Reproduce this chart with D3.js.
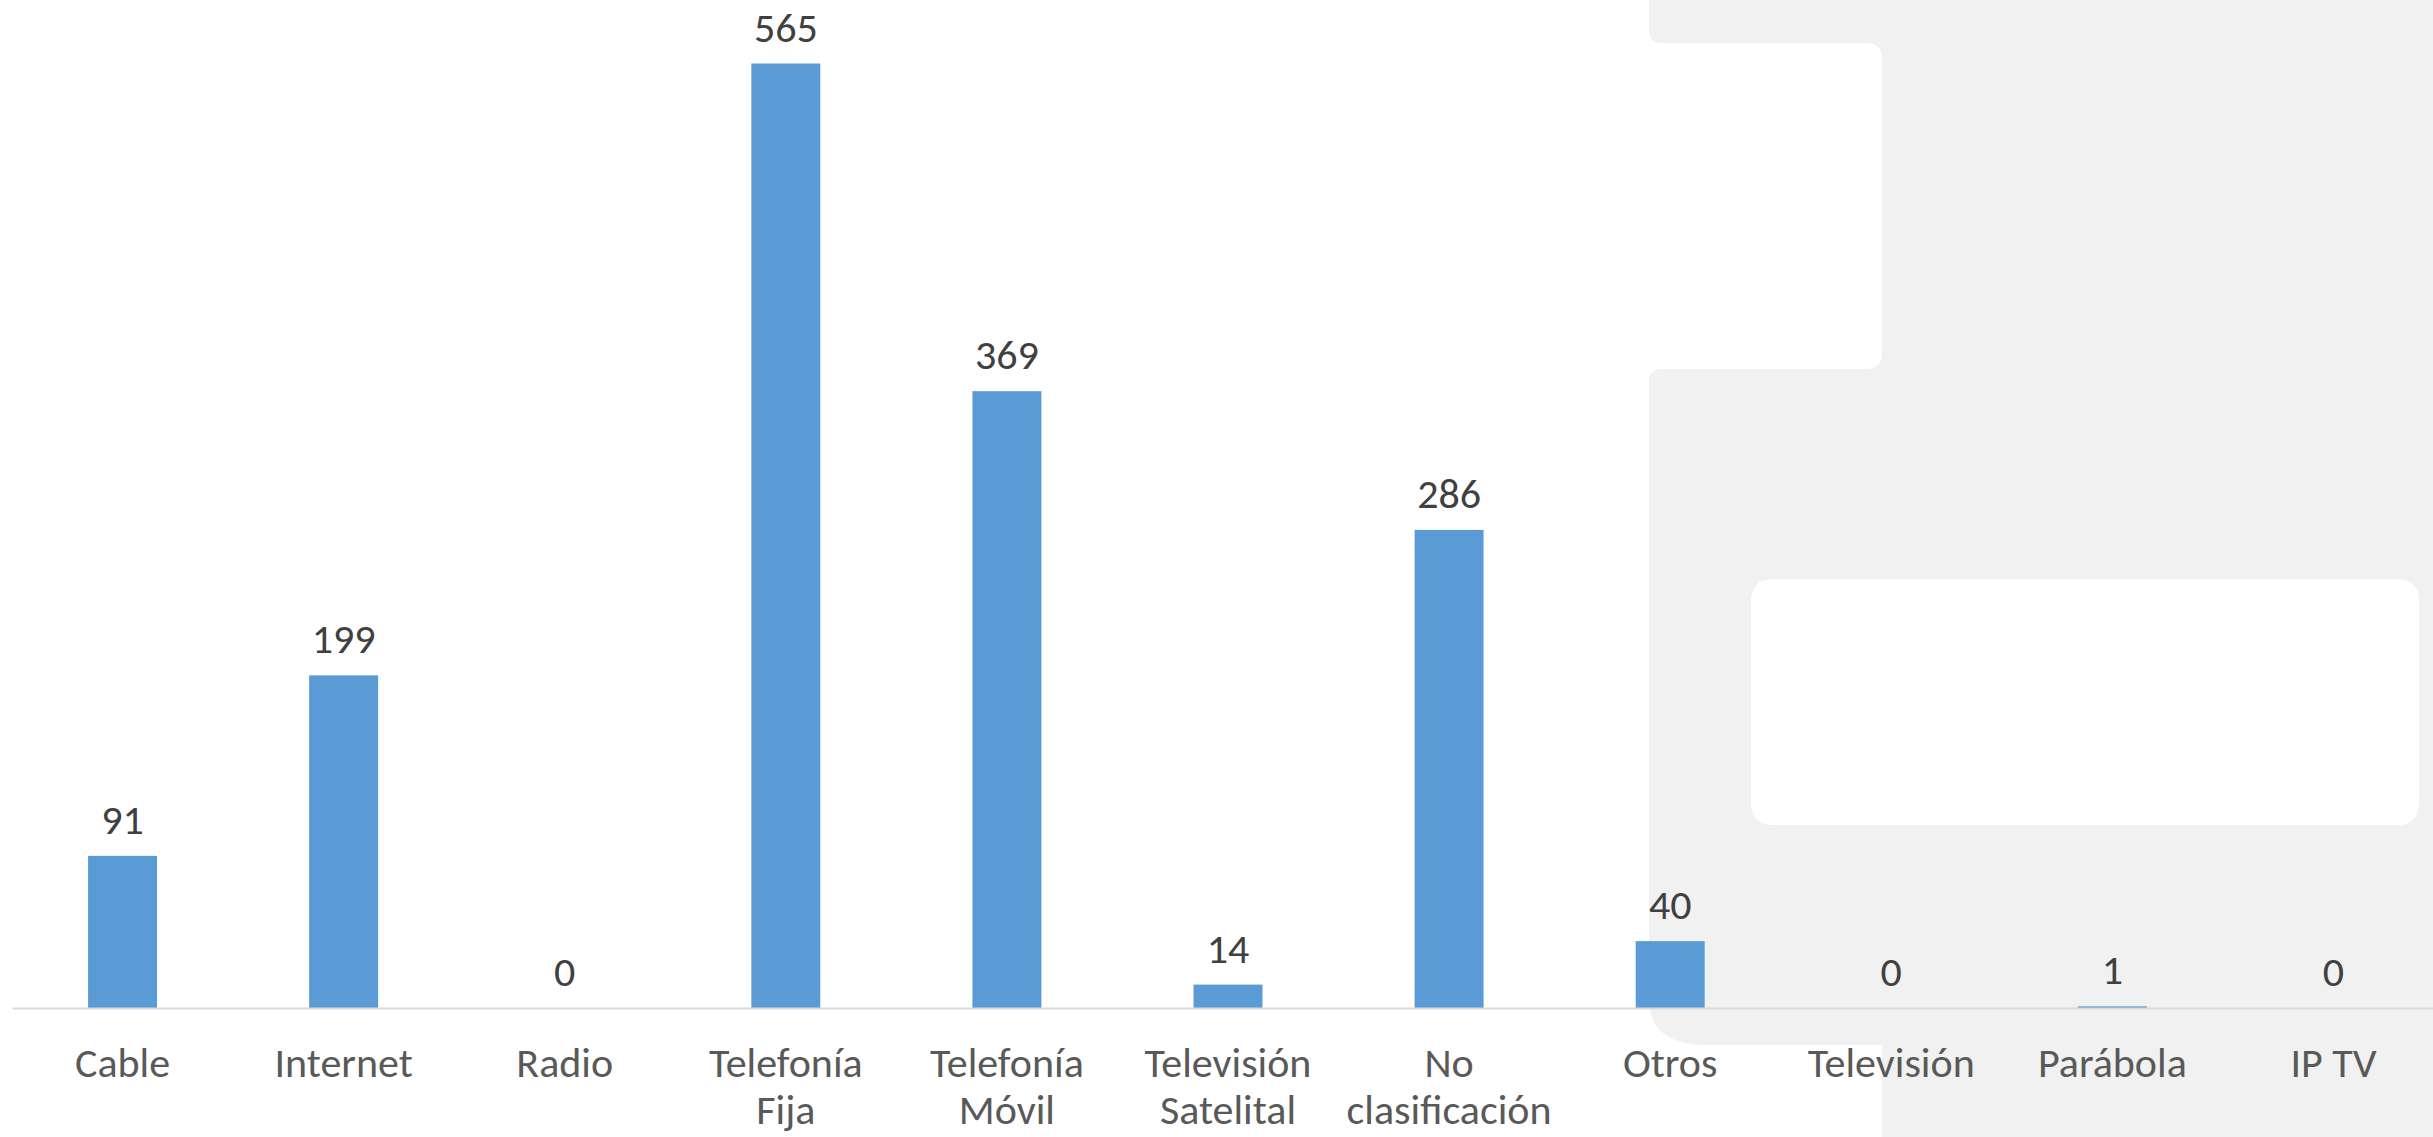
<!DOCTYPE html>
<html>
<head>
<meta charset="utf-8">
<script src="https://cdn.jsdelivr.net/npm/d3@7"></script>
<style>
  html, body { margin: 0; padding: 0; background: #ffffff; }
  svg { display: block; }
</style>
</head>
<body>
<svg id="chart" width="2433" height="1137"></svg>
<script>
// ---- Data ----
const categories = ["Cable", "Internet", "Radio", "Telefonía Fija", "Telefonía Móvil",
                    "Televisión Satelital", "No clasificación", "Otros", "Televisión", "Parábola", "IP TV"];
const values = [91, 199, 0, 565, 369, 14, 286, 40, 0, 1, 0];

// ---- Layout ----
const W = 2433, H = 1137;
const baseY = 1008;
const svg = d3.select("#chart");
const FONT = "Carlito, Calibri, Lato, 'Open Sans', sans-serif";

// Decorative grey background shape (slide backdrop)
const gx = 1649, nr = 1882, t1 = 43, t2 = 369, gb = 1045;
const bg = `M${gx},0 H${W} V${H} H${nr} V${gb} H${gx + 58} Q${gx},${gb} ${gx},${gb - 46}
  V${t2 + 12} Q${gx},${t2} ${gx + 12},${t2} H${nr - 16} Q${nr},${t2} ${nr},${t2 - 16}
  V${t1 + 16} Q${nr},${t1} ${nr - 16},${t1} H${gx + 12} Q${gx},${t1} ${gx},${t1 - 12} Z`;
svg.append("path").attr("d", bg).attr("fill", "#f0f1f0");
svg.append("rect").attr("x", 1751).attr("y", 579).attr("width", 668).attr("height", 246)
   .attr("rx", 20).attr("ry", 20).attr("fill", "#ffffff");

// ---- Scales ----
const x = d3.scaleBand().domain(categories).range([12, 2444]).paddingInner(0.688).paddingOuter(0.344);
const y = d3.scaleLinear().domain([0, 600]).range([baseY, 5]);

// Bars
svg.append("g").selectAll("rect")
  .data(categories)
  .join("rect")
  .attr("x", d => x(d))
  .attr("width", x.bandwidth())
  .attr("y", (d, i) => y(values[i]))
  .attr("height", (d, i) => baseY - y(values[i]))
  .attr("fill", "#5b9bd5");

// X axis (line only, no ticks)
const xAxis = svg.append("g")
  .attr("transform", `translate(0,${baseY})`)
  .call(d3.axisBottom(x).tickSize(0).tickPadding(0));
xAxis.select(".domain").attr("stroke", "#d9d9d9").attr("stroke-width", 2);
xAxis.selectAll(".tick text")
  .attr("font-family", FONT)
  .attr("font-size", 42)
  .attr("fill", "#595959")
  .attr("y", 0)
  .attr("dy", 0)
  .each(function(d) {
    const t = d3.select(this);
    const words = d.split(" ");
    const maxW = x.step() * 0.95;
    t.text(null);
    let lines = [], cur = [];
    const probe = t.append("tspan");
    words.forEach(w => {
      const test = cur.concat([w]).join(" ");
      probe.text(test);
      if (cur.length && probe.node().getComputedTextLength() > maxW) {
        lines.push(cur.join(" "));
        cur = [w];
      } else cur.push(w);
    });
    lines.push(cur.join(" "));
    probe.remove();
    lines.forEach((l, i) => {
      t.append("tspan").attr("x", 0).attr("y", 69 + i * 47).text(l);
    });
  });

// Value labels
svg.append("g").selectAll("text")
  .data(categories)
  .join("text")
  .attr("x", d => x(d) + x.bandwidth() / 2)
  .attr("y", (d, i) => y(values[i]) - 22)
  .attr("text-anchor", "middle")
  .attr("font-family", FONT)
  .attr("font-size", 42)
  .attr("fill", "#404040")
  .text((d, i) => values[i]);
</script>
</body>
</html>
